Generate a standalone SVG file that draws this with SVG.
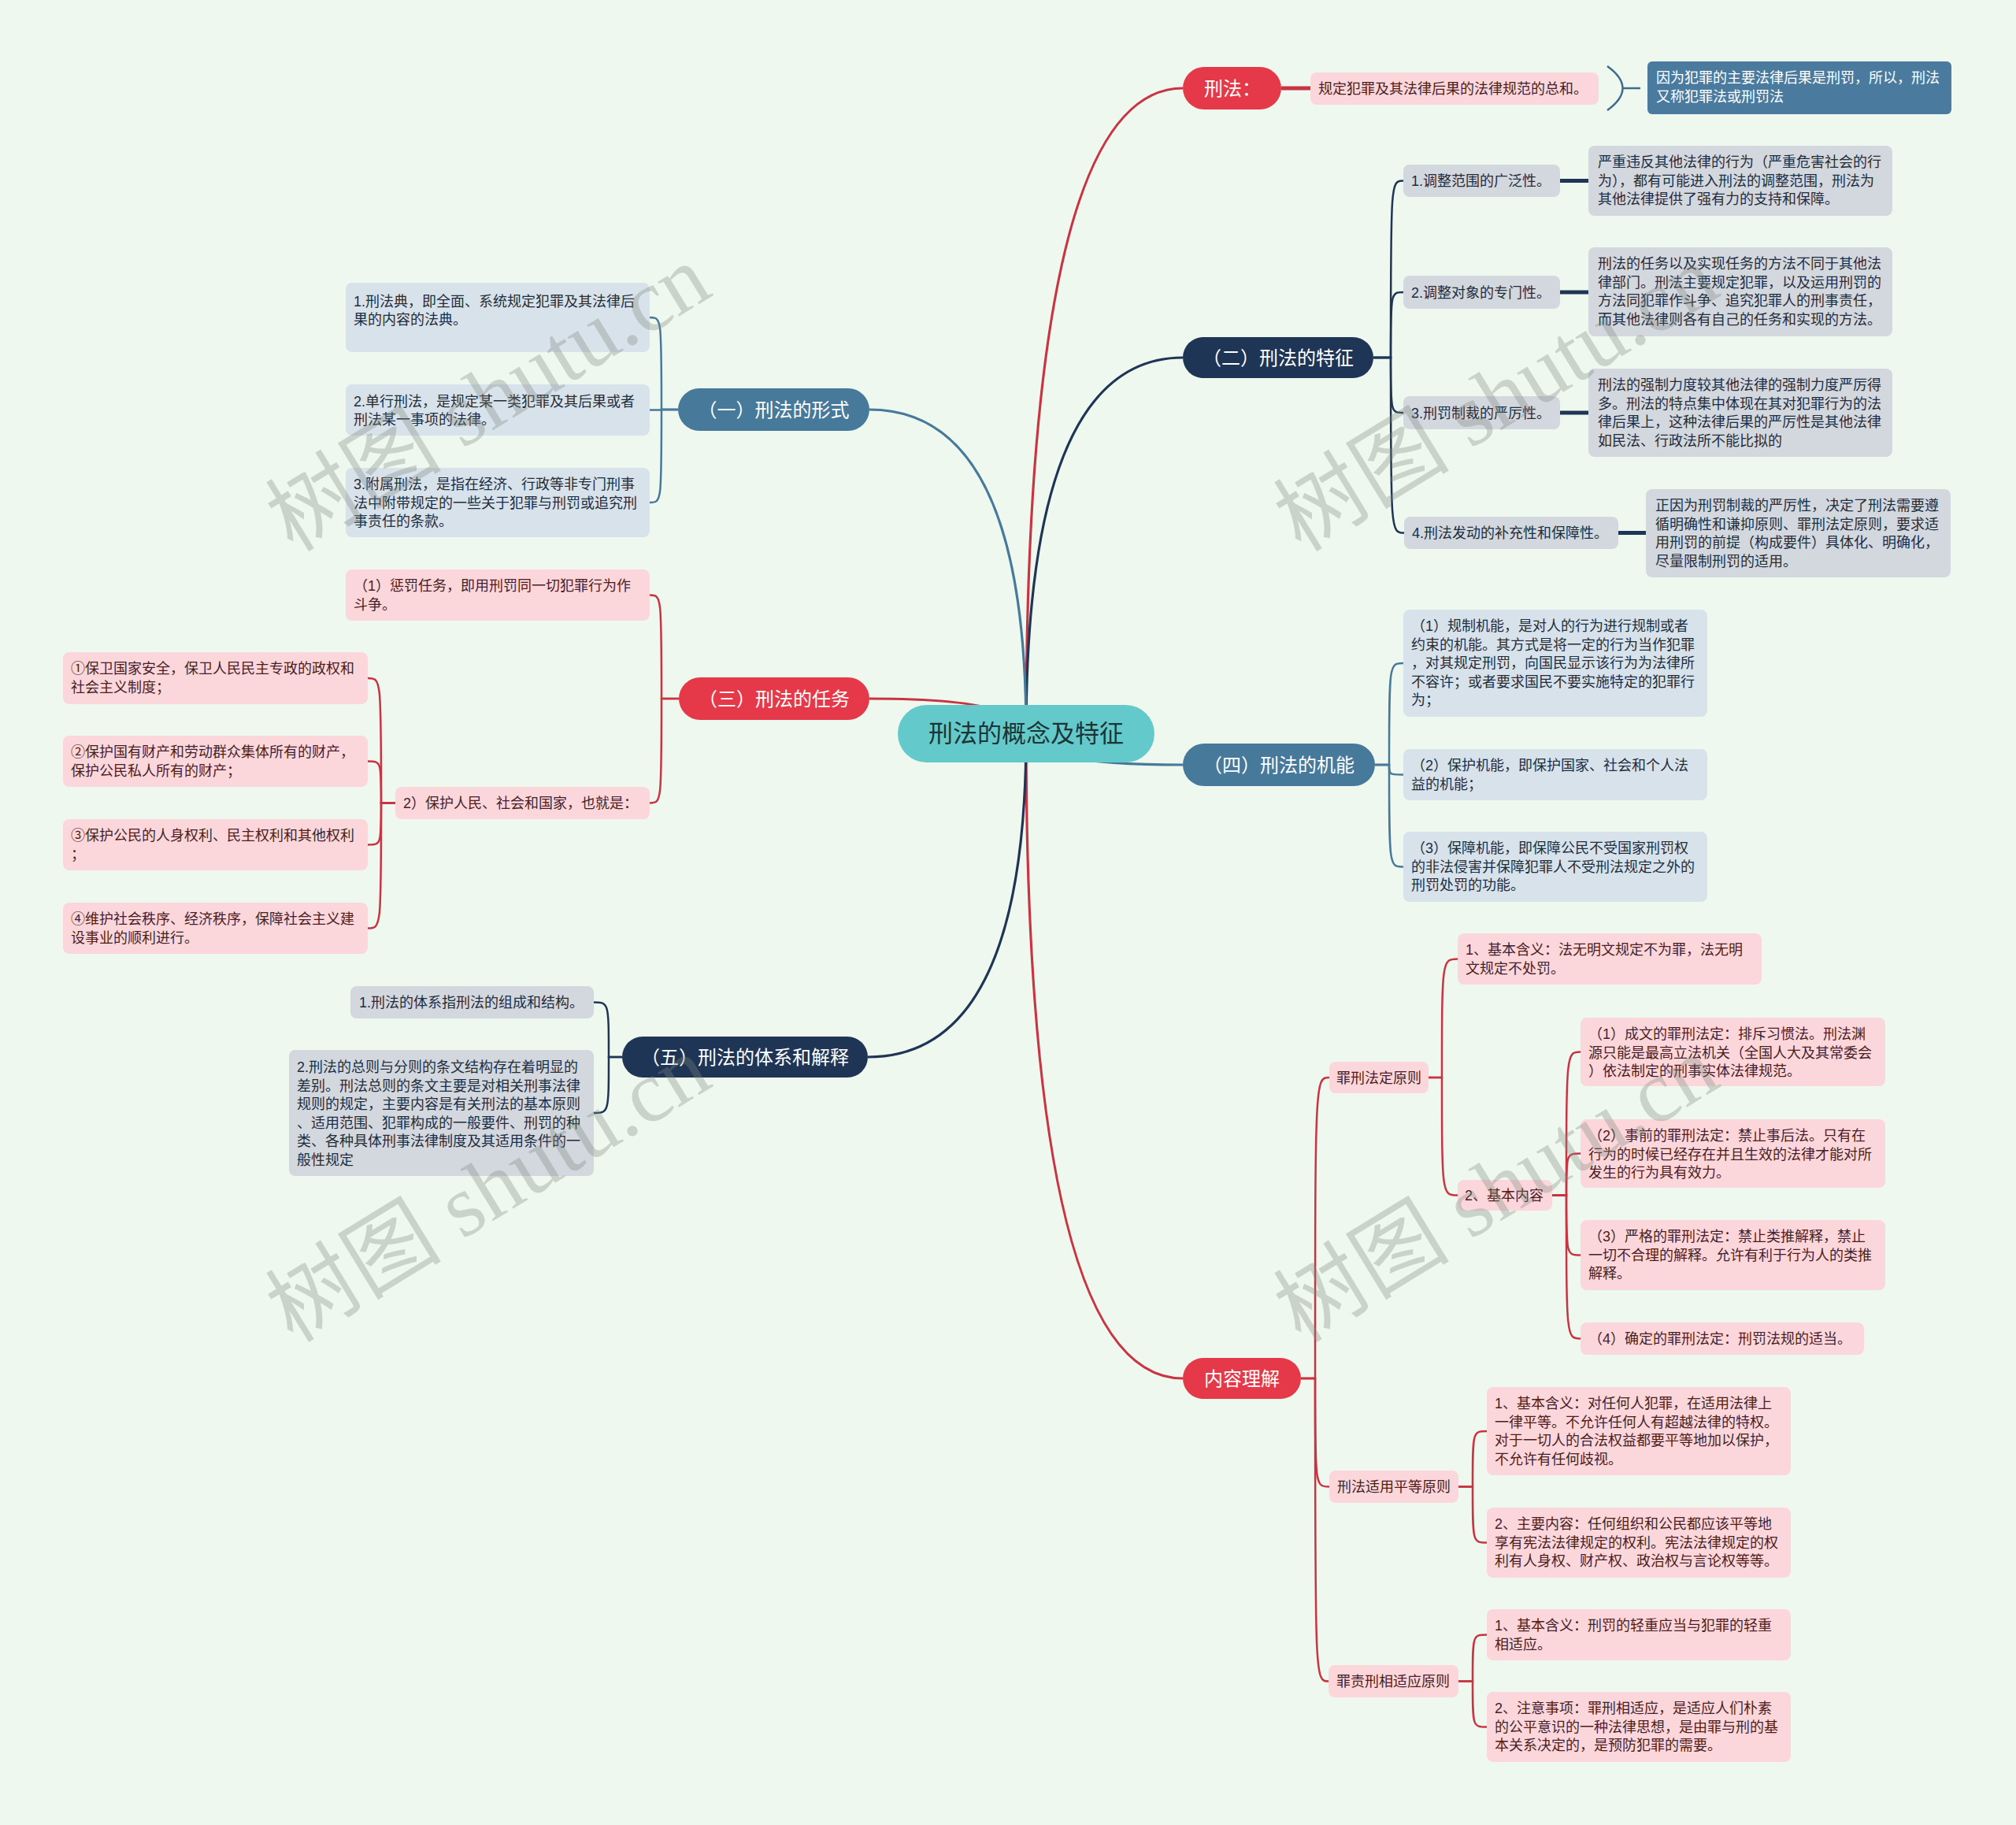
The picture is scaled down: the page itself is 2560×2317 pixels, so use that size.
<svg xmlns="http://www.w3.org/2000/svg" width="2560" height="2317" viewBox="0 0 2560 2317">
<style>
.tx{font-family:"Liberation Sans","Noto Sans CJK SC",sans-serif;font-size:18px}
.l1{font-family:"Liberation Sans","Noto Sans CJK SC",sans-serif;font-size:24px;fill:#ffffff;text-anchor:middle}
.dk{fill:#1f2d3d}
.pt{fill:#4a1d24}
.wt{fill:#ffffff}
.gray{fill:#d3d7de}
.lblue{fill:#d8e2ea}
.pink{fill:#fbd7db}
.red{fill:#e5394a}
.navy{fill:#1f3556}
.steel{fill:#47799b}
.c-red{fill:none;stroke:#c93443;stroke-width:2.5}
.c-navy{fill:none;stroke:#1f3556;stroke-width:2.5}
.c-steel{fill:none;stroke:#47799b;stroke-width:2.5}
.main{stroke-width:3.2}
.thick{stroke-width:5}
.wm{font-family:"Liberation Serif","Noto Sans CJK SC",serif;font-size:112px;fill:#7f8a80;opacity:0.33}
</style>
<rect x="0" y="0" width="2560" height="2317" fill="#eff8ee"/>

<g id="connectors">
  <path class="c-red main" d="M1303 931 Q1303 112 1502 112"/>
  <path class="c-navy main" d="M1303 931 Q1303 454 1502 454"/>
  <path class="c-steel main" d="M1303 931 Q1303 971 1502 971"/>
  <path class="c-red main" d="M1303 931 Q1303 1750 1502 1750"/>
  <path class="c-steel main" d="M1303 931 Q1303 520 1104 520"/>
  <path class="c-red main" d="M1303 931 Q1303 887 1104 887"/>
  <path class="c-navy main" d="M1303 931 Q1303 1342 1102 1342"/>
  <path class="c-red thick" d="M1627 112 H1664"/>
  <path fill="none" stroke="#3f6c8c" stroke-width="2.5" d="M2041 84 Q2080 112 2041 140"/>
  <path fill="none" stroke="#3f6c8c" stroke-width="2.5" d="M2061 112 H2083"/>
  <path class="c-navy" d="M1744 454 H1766 C1766 229.5 1766 229.5 1782 229.5"/>
  <path class="c-navy" d="M1744 454 H1766 C1766 371 1766 371 1782 371"/>
  <path class="c-navy" d="M1744 454 H1766 C1766 524 1766 524 1782 524"/>
  <path class="c-navy" d="M1744 454 H1766 C1766 676.5 1766 676.5 1783 676.5"/>
  <path class="c-navy thick" d="M1981 229.5 H2017"/>
  <path class="c-navy thick" d="M1981 371 H2017"/>
  <path class="c-navy thick" d="M1981 524 H2017"/>
  <path class="c-navy thick" d="M2055 676.5 H2090"/>
  <path class="c-steel" d="M1746 971 H1764 C1764 842 1764 842 1782 842"/>
  <path class="c-steel" d="M1746 971 H1764 C1764 983.5 1764 983.5 1782 983.5"/>
  <path class="c-steel" d="M1746 971 H1764 C1764 1100.5 1764 1100.5 1782 1100.5"/>
  <path class="c-red" d="M1652 1750 H1670 C1670 1368 1670 1368 1688 1368"/>
  <path class="c-red" d="M1652 1750 H1670 C1670 1887.5 1670 1887.5 1688 1887.5"/>
  <path class="c-red" d="M1652 1750 H1670 C1670 2134.5 1670 2134.5 1687 2134.5"/>
  <path class="c-red" d="M1814 1368 H1831 C1831 1217.5 1831 1217.5 1851 1217.5"/>
  <path class="c-red" d="M1814 1368 H1831 C1831 1517.5 1831 1517.5 1851 1517.5"/>
  <path class="c-red" d="M1971 1517.5 H1989 C1989 1335.5 1989 1335.5 2007 1335.5"/>
  <path class="c-red" d="M1971 1517.5 H1989 C1989 1464.5 1989 1464.5 2007 1464.5"/>
  <path class="c-red" d="M1971 1517.5 H1989 C1989 1593.5 1989 1593.5 2007 1593.5"/>
  <path class="c-red" d="M1971 1517.5 H1989 C1989 1699.5 1989 1699.5 2007 1699.5"/>
  <path class="c-red" d="M1852 1887.5 H1870 C1870 1817 1870 1817 1888 1817"/>
  <path class="c-red" d="M1852 1887.5 H1870 C1870 1958.5 1870 1958.5 1888 1958.5"/>
  <path class="c-red" d="M1852 2134.5 H1870 C1870 2075.5 1870 2075.5 1888 2075.5"/>
  <path class="c-red" d="M1852 2134.5 H1870 C1870 2192.5 1870 2192.5 1888 2192.5"/>
  <path class="c-steel" d="M861 520 H840 C840 403 840 403 825 403"/>
  <path class="c-steel" d="M861 520 H840 C840 520.5 840 520.5 825 520.5"/>
  <path class="c-steel" d="M861 520 H840 C840 638 840 638 825 638"/>
  <path class="c-red" d="M862 887 H840 C840 755.5 840 755.5 825 755.5"/>
  <path class="c-red" d="M862 887 H840 C840 1019.5 840 1019.5 825 1019.5"/>
  <path class="c-red" d="M502 1019.5 H484 C484 861 484 861 467 861"/>
  <path class="c-red" d="M502 1019.5 H484 C484 966.5 484 966.5 467 966.5"/>
  <path class="c-red" d="M502 1019.5 H484 C484 1072.5 484 1072.5 467 1072.5"/>
  <path class="c-red" d="M502 1019.5 H484 C484 1178.5 484 1178.5 467 1178.5"/>
  <path class="c-navy" d="M790 1342 H773 C773 1272.5 773 1272.5 754 1272.5"/>
  <path class="c-navy" d="M790 1342 H773 C773 1413 773 1413 754 1413"/>
</g>

<g id="root">
  <rect x="1140" y="895" width="326" height="73" rx="36.5" fill="#63c9cb"/>
  <text x="1303" y="942" text-anchor="middle" font-family="Liberation Sans, Noto Sans CJK SC, sans-serif" font-size="31" fill="#1c3434">刑法的概念及特征</text>
</g>

<g id="n-xingfa"><rect class="red" x="1502" y="85" width="125" height="54" rx="27"/><text class="l1" x="1565" y="120.6">刑法：</text></g>
<g id="n-tezheng"><rect class="navy" x="1502" y="428" width="242" height="52" rx="26"/><text class="l1" x="1623" y="462.6">（二）刑法的特征</text></g>
<g id="n-jineng"><rect class="steel" x="1502" y="944" width="244" height="54" rx="27"/><text class="l1" x="1624" y="979.6">（四）刑法的机能</text></g>
<g id="n-neirong"><rect class="red" x="1502" y="1724" width="150" height="52" rx="26"/><text class="l1" x="1577" y="1758.6">内容理解</text></g>
<g id="n-xingshi"><rect class="steel" x="861" y="493" width="243" height="54" rx="27"/><text class="l1" x="982.5" y="528.6">（一）刑法的形式</text></g>
<g id="n-renwu"><rect class="red" x="862" y="860" width="242" height="54" rx="27"/><text class="l1" x="983" y="895.6">（三）刑法的任务</text></g>
<g id="n-tixi"><rect class="navy" x="790" y="1316" width="312" height="52" rx="26"/><text class="l1" x="946" y="1350.6">（五）刑法的体系和解释</text></g>

<g id="a1"><rect class="pink" x="1664" y="92" width="366" height="41" rx="8"/><text class="tx pt" x="1674" y="119.4">规定犯罪及其法律后果的法律规范的总和。</text></g>
<g id="a2"><rect x="2092" y="78" width="386" height="67" rx="6" fill="#4a7b9f"/><text class="tx wt" x="2103" y="105.4"><tspan x="2103">因为犯罪的主要法律后果是刑罚，所以，刑法</tspan><tspan x="2103" dy="23.4">又称犯罪法或刑罚法</tspan></text></g>

<g id="b1"><rect class="gray" x="1782" y="209" width="199" height="41" rx="8"/><text class="tx dk" x="1792" y="236.4">1.调整范围的广泛性。</text></g>
<g id="b1d"><rect class="gray" x="2017" y="185" width="386" height="89" rx="8"/><text class="tx dk" x="2029" y="212.4"><tspan x="2029">严重违反其他法律的行为（严重危害社会的行</tspan><tspan x="2029" dy="23.4">为），都有可能进入刑法的调整范围，刑法为</tspan><tspan x="2029" dy="23.4">其他法律提供了强有力的支持和保障。</tspan></text></g>
<g id="b2"><rect class="gray" x="1782" y="350" width="199" height="42" rx="8"/><text class="tx dk" x="1792" y="377.8">2.调整对象的专门性。</text></g>
<g id="b2d"><rect class="gray" x="2017" y="314" width="386" height="113" rx="8"/><text class="tx dk" x="2029" y="341.4"><tspan x="2029">刑法的任务以及实现任务的方法不同于其他法</tspan><tspan x="2029" dy="23.4">律部门。刑法主要规定犯罪，以及运用刑罚的</tspan><tspan x="2029" dy="23.4">方法同犯罪作斗争、追究犯罪人的刑事责任，</tspan><tspan x="2029" dy="23.4">而其他法律则各有自己的任务和实现的方法。</tspan></text></g>
<g id="b3"><rect class="gray" x="1782" y="503" width="199" height="42" rx="8"/><text class="tx dk" x="1792" y="530.8">3.刑罚制裁的严厉性。</text></g>
<g id="b3d"><rect class="gray" x="2017" y="468" width="386" height="112" rx="8"/><text class="tx dk" x="2029" y="495.4"><tspan x="2029">刑法的强制力度较其他法律的强制力度严厉得</tspan><tspan x="2029" dy="23.4">多。刑法的特点集中体现在其对犯罪行为的法</tspan><tspan x="2029" dy="23.4">律后果上，这种法律后果的严厉性是其他法律</tspan><tspan x="2029" dy="23.4">如民法、行政法所不能比拟的</tspan></text></g>
<g id="b4"><rect class="gray" x="1783" y="656" width="272" height="41" rx="8"/><text class="tx dk" x="1793" y="683.4">4.刑法发动的补充性和保障性。</text></g>
<g id="b4d"><rect class="gray" x="2090" y="621" width="387" height="112" rx="8"/><text class="tx dk" x="2102" y="648.4"><tspan x="2102">正因为刑罚制裁的严厉性，决定了刑法需要遵</tspan><tspan x="2102" dy="23.4">循明确性和谦抑原则、罪刑法定原则，要求适</tspan><tspan x="2102" dy="23.4">用刑罚的前提（构成要件）具体化、明确化，</tspan><tspan x="2102" dy="23.4">尽量限制刑罚的适用。</tspan></text></g>

<g id="c1"><rect class="lblue" x="1782" y="774" width="386" height="136" rx="8"/><text class="tx dk" x="1792" y="801.4"><tspan x="1792">（1）规制机能，是对人的行为进行规制或者</tspan><tspan x="1792" dy="23.4">约束的机能。其方式是将一定的行为当作犯罪</tspan><tspan x="1792" dy="23.4">，对其规定刑罚，向国民显示该行为为法律所</tspan><tspan x="1792" dy="23.4">不容许；或者要求国民不要实施特定的犯罪行</tspan><tspan x="1792" dy="23.4">为；</tspan></text></g>
<g id="c2"><rect class="lblue" x="1782" y="951" width="386" height="65" rx="8"/><text class="tx dk" x="1792" y="978.4"><tspan x="1792">（2）保护机能，即保护国家、社会和个人法</tspan><tspan x="1792" dy="23.4">益的机能；</tspan></text></g>
<g id="c3"><rect class="lblue" x="1782" y="1056" width="386" height="89" rx="8"/><text class="tx dk" x="1792" y="1083.4"><tspan x="1792">（3）保障机能，即保障公民不受国家刑罚权</tspan><tspan x="1792" dy="23.4">的非法侵害并保障犯罪人不受刑法规定之外的</tspan><tspan x="1792" dy="23.4">刑罚处罚的功能。</tspan></text></g>

<g id="d1"><rect class="pink" x="1688" y="1348" width="126" height="40" rx="8"/><text class="tx pt" x="1697" y="1374.8">罪刑法定原则</text></g>
<g id="d1a"><rect class="pink" x="1851" y="1185" width="386" height="65" rx="8"/><text class="tx pt" x="1861" y="1212.4"><tspan x="1861">1、基本含义：法无明文规定不为罪，法无明</tspan><tspan x="1861" dy="23.4">文规定不处罚。</tspan></text></g>
<g id="d1b"><rect class="pink" x="1851" y="1498" width="120" height="39" rx="8"/><text class="tx pt" x="1860" y="1524.3">2、基本内容</text></g>
<g id="d1b1"><rect class="pink" x="2007" y="1292" width="387" height="87" rx="8"/><text class="tx pt" x="2017" y="1319.4"><tspan x="2017">（1）成文的罪刑法定：排斥习惯法。刑法渊</tspan><tspan x="2017" dy="23.4">源只能是最高立法机关（全国人大及其常委会</tspan><tspan x="2017" dy="23.4">）依法制定的刑事实体法律规范。</tspan></text></g>
<g id="d1b2"><rect class="pink" x="2007" y="1421" width="387" height="87" rx="8"/><text class="tx pt" x="2017" y="1448.4"><tspan x="2017">（2）事前的罪刑法定：禁止事后法。只有在</tspan><tspan x="2017" dy="23.4">行为的时候已经存在并且生效的法律才能对所</tspan><tspan x="2017" dy="23.4">发生的行为具有效力。</tspan></text></g>
<g id="d1b3"><rect class="pink" x="2007" y="1549" width="387" height="89" rx="8"/><text class="tx pt" x="2017" y="1576.4"><tspan x="2017">（3）严格的罪刑法定：禁止类推解释，禁止</tspan><tspan x="2017" dy="23.4">一切不合理的解释。允许有利于行为人的类推</tspan><tspan x="2017" dy="23.4">解释。</tspan></text></g>
<g id="d1b4"><rect class="pink" x="2007" y="1679" width="360" height="41" rx="8"/><text class="tx pt" x="2017" y="1706.4">（4）确定的罪刑法定：刑罚法规的适当。</text></g>
<g id="d2"><rect class="pink" x="1688" y="1867" width="164" height="41" rx="8"/><text class="tx pt" x="1698" y="1894.3">刑法适用平等原则</text></g>
<g id="d2a"><rect class="pink" x="1888" y="1761" width="386" height="112" rx="8"/><text class="tx pt" x="1898" y="1788.4"><tspan x="1898">1、基本含义：对任何人犯罪，在适用法律上</tspan><tspan x="1898" dy="23.4">一律平等。不允许任何人有超越法律的特权。</tspan><tspan x="1898" dy="23.4">对于一切人的合法权益都要平等地加以保护，</tspan><tspan x="1898" dy="23.4">不允许有任何歧视。</tspan></text></g>
<g id="d2b"><rect class="pink" x="1888" y="1914" width="386" height="89" rx="8"/><text class="tx pt" x="1898" y="1941.4"><tspan x="1898">2、主要内容：任何组织和公民都应该平等地</tspan><tspan x="1898" dy="23.4">享有宪法法律规定的权利。宪法法律规定的权</tspan><tspan x="1898" dy="23.4">利有人身权、财产权、政治权与言论权等等。</tspan></text></g>
<g id="d3"><rect class="pink" x="1687" y="2114" width="165" height="41" rx="8"/><text class="tx pt" x="1697" y="2141.3">罪责刑相适应原则</text></g>
<g id="d3a"><rect class="pink" x="1888" y="2043" width="386" height="65" rx="8"/><text class="tx pt" x="1898" y="2070.4"><tspan x="1898">1、基本含义：刑罚的轻重应当与犯罪的轻重</tspan><tspan x="1898" dy="23.4">相适应。</tspan></text></g>
<g id="d3b"><rect class="pink" x="1888" y="2148" width="386" height="89" rx="8"/><text class="tx pt" x="1898" y="2175.4"><tspan x="1898">2、注意事项：罪刑相适应，是适应人们朴素</tspan><tspan x="1898" dy="23.4">的公平意识的一种法律思想，是由罪与刑的基</tspan><tspan x="1898" dy="23.4">本关系决定的，是预防犯罪的需要。</tspan></text></g>

<g id="e1"><rect class="lblue" x="439" y="359" width="386" height="88" rx="8"/><text class="tx dk" x="449" y="388.5"><tspan x="449">1.刑法典，即全面、系统规定犯罪及其法律后</tspan><tspan x="449" dy="23.4">果的内容的法典。</tspan></text></g>
<g id="e2"><rect class="lblue" x="439" y="488" width="386" height="65" rx="8"/><text class="tx dk" x="449" y="516"><tspan x="449">2.单行刑法，是规定某一类犯罪及其后果或者</tspan><tspan x="449" dy="23.4">刑法某一事项的法律。</tspan></text></g>
<g id="e3"><rect class="lblue" x="439" y="594" width="386" height="88" rx="8"/><text class="tx dk" x="449" y="621.4"><tspan x="449">3.附属刑法，是指在经济、行政等非专门刑事</tspan><tspan x="449" dy="23.4">法中附带规定的一些关于犯罪与刑罚或追究刑</tspan><tspan x="449" dy="23.4">事责任的条款。</tspan></text></g>

<g id="f1"><rect class="pink" x="439" y="723" width="386" height="65" rx="8"/><text class="tx pt" x="449" y="750.4"><tspan x="449">（1）惩罚任务，即用刑罚同一切犯罪行为作</tspan><tspan x="449" dy="23.4">斗争。</tspan></text></g>
<g id="f2"><rect class="pink" x="502" y="999" width="323" height="41" rx="8"/><text class="tx pt" x="512" y="1026.4">2）保护人民、社会和国家，也就是：</text></g>
<g id="f2a"><rect class="pink" x="80" y="828" width="387" height="66" rx="8"/><text class="tx pt" x="90" y="855.4"><tspan x="90">①保卫国家安全，保卫人民民主专政的政权和</tspan><tspan x="90" dy="23.4">社会主义制度；</tspan></text></g>
<g id="f2b"><rect class="pink" x="80" y="934" width="387" height="65" rx="8"/><text class="tx pt" x="90" y="961.4"><tspan x="90">②保护国有财产和劳动群众集体所有的财产，</tspan><tspan x="90" dy="23.4">保护公民私人所有的财产；</tspan></text></g>
<g id="f2c"><rect class="pink" x="80" y="1040" width="387" height="65" rx="8"/><text class="tx pt" x="90" y="1067.4"><tspan x="90">③保护公民的人身权利、民主权利和其他权利</tspan><tspan x="90" dy="23.4">；</tspan></text></g>
<g id="f2d"><rect class="pink" x="80" y="1146" width="387" height="65" rx="8"/><text class="tx pt" x="90" y="1173.4"><tspan x="90">④维护社会秩序、经济秩序，保障社会主义建</tspan><tspan x="90" dy="23.4">设事业的顺利进行。</tspan></text></g>

<g id="g1"><rect class="gray" x="445" y="1252" width="309" height="41" rx="8"/><text class="tx dk" x="456" y="1279.4">1.刑法的体系指刑法的组成和结构。</text></g>
<g id="g2"><rect class="gray" x="367" y="1333" width="387" height="160" rx="8"/><text class="tx dk" x="377" y="1361"><tspan x="377">2.刑法的总则与分则的条文结构存在着明显的</tspan><tspan x="377" dy="23.6">差别。刑法总则的条文主要是对相关刑事法律</tspan><tspan x="377" dy="23.6">规则的规定，主要内容是有关刑法的基本原则</tspan><tspan x="377" dy="23.6">、适用范围、犯罪构成的一般要件、刑罚的种</tspan><tspan x="377" dy="23.6">类、各种具体刑事法律制度及其适用条件的一</tspan><tspan x="377" dy="23.6">般性规定</tspan></text></g>

<g id="watermarks">
  <text class="wm" x="372" y="702" transform="rotate(-31.5 372 702)">树图 shutu.cn</text>
  <text class="wm" x="1652" y="702" transform="rotate(-31.5 1652 702)">树图 shutu.cn</text>
  <text class="wm" x="372" y="1706" transform="rotate(-31.5 372 1706)">树图 shutu.cn</text>
  <text class="wm" x="1652" y="1706" transform="rotate(-31.5 1652 1706)">树图 shutu.cn</text>
</g>
</svg>
